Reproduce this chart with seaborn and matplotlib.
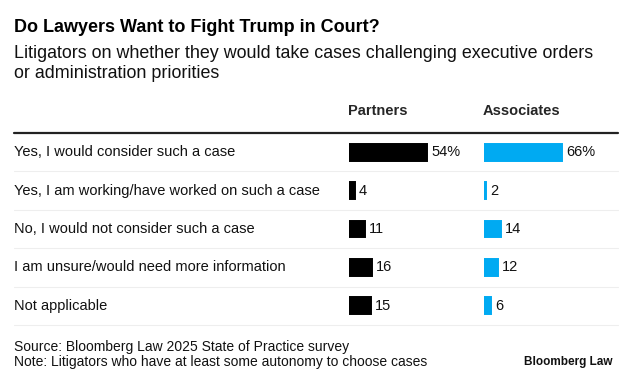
import pandas as pd
import matplotlib.pyplot as plt
import seaborn as sns
from matplotlib.lines import Line2D

# Data
categories = [
    "Yes, I would consider such a case",
    "Yes, I am working/have worked on such a case",
    "No, I would not consider such a case",
    "I am unsure/would need more information",
    "Not applicable",
]
partners = [54, 4, 11, 16, 15]
associates = [66, 2, 14, 12, 6]
value_labels_p = ["54%", "4", "11", "16", "15"]
value_labels_a = ["66%", "2", "14", "12", "6"]

df = pd.DataFrame({"answer": categories, "Partners": partners, "Associates": associates})

sns.set_theme(style="white")
plt.rcParams["font.family"] = ["Liberation Sans", "DejaVu Sans"]

W, H = 633, 382
fig = plt.figure(figsize=(W / 100, H / 100), dpi=100)
fig.patch.set_facecolor("white")


def fx(x):
    return x / W


def fy(y):
    return 1 - y / H


# Titles
fig.text(fx(14), fy(28), "Do Lawyers Want to Fight Trump in Court?", fontsize=13,
         fontweight="bold", va="center", ha="left", color="black")
fig.text(fx(14), fy(53), "Litigators on whether they would take cases challenging executive orders",
         fontsize=12.9, va="center", ha="left", color="#111111")
fig.text(fx(14), fy(74), "or administration priorities",
         fontsize=12.9, va="center", ha="left", color="#111111")

top, bottom = 133, 325
row_h = (bottom - top) / len(categories)

# column axes
cols = [
    ("Partners", 348, "black", value_labels_p, max(partners)),
    ("Associates", 483, "#00AAF2", value_labels_a, max(associates)),
]
for name, x0, color, labels, vmax in cols:
    ax = fig.add_axes([fx(x0 + 1), fy(bottom), 120 / W, (bottom - top) / H])
    sns.barplot(data=df, y="answer", x=name, orient="h", color=color,
                width=0.44, saturation=1, ax=ax, order=categories,
                edgecolor=color, linewidth=1.4)
    ax.set_xlim(0, vmax * 120 / 78)
    ax.set_ylim(len(categories) - 0.5, -0.5)
    ax.set_axis_off()
    for i, (v, lab) in enumerate(zip(df[name], labels)):
        ax.text(v + vmax * 4 / 78, i, lab, va="center", ha="left", fontsize=10.5, color="#111111")
    fig.text(fx(x0), fy(111), name, fontsize=10.5, fontweight="bold", va="center", ha="left")

# category labels
for i, cat in enumerate(categories):
    fig.text(fx(14), fy(top + row_h * (i + 0.5)), cat, fontsize=10.5, va="center",
             ha="left", color="#111111")

# lines
fig.add_artist(Line2D([fx(14), fx(618)], [fy(top), fy(top)], color="#222222", lw=1.6))
for i in range(1, len(categories) + 1):
    yy = top + row_h * i
    fig.add_artist(Line2D([fx(14), fx(618)], [fy(yy), fy(yy)], color="#eeeeee", lw=0.8))

# footer
fig.text(fx(14), fy(347), "Source: Bloomberg Law 2025 State of Practice survey", fontsize=10,
         va="center", ha="left", color="#111111")
fig.text(fx(14), fy(362), "Note: Litigators who have at least some autonomy to choose cases", fontsize=10,
         va="center", ha="left", color="#111111")
fig.text(fx(612), fy(362), "Bloomberg Law", fontsize=8.5, fontweight="bold", va="center",
         ha="right", color="#111111")

fig.savefig("out.png", dpi=100)
